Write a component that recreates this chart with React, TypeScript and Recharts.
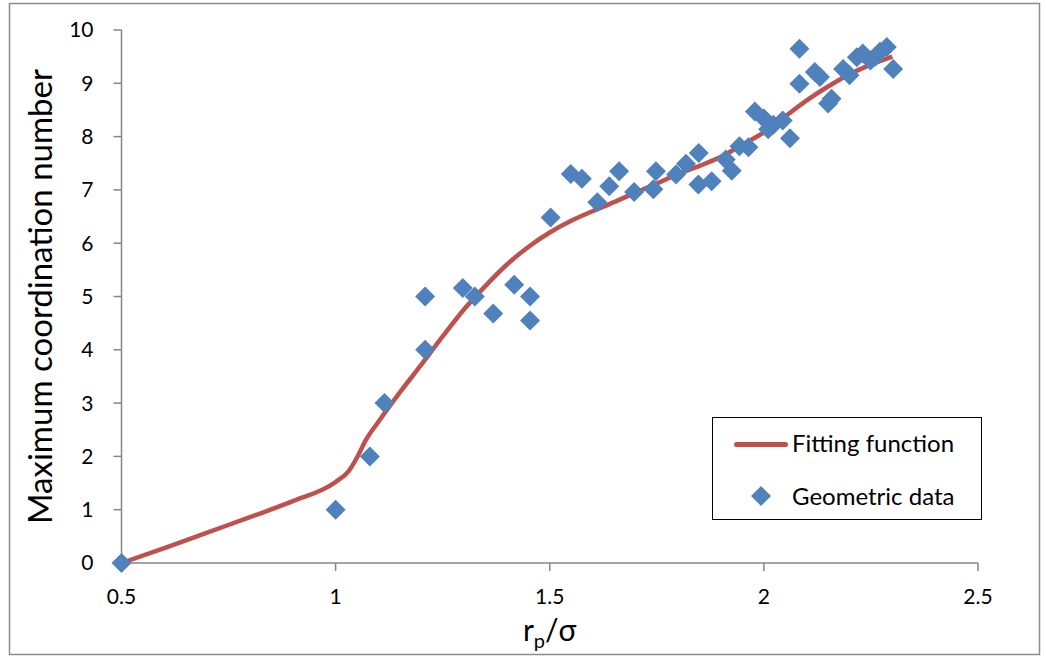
import React from 'react';
import { ComposedChart, Line, Scatter, XAxis, YAxis, Legend } from 'recharts';

// geometric data
const geoX = [
  0.5, 1.0, 1.08, 1.114, 1.209, 1.209, 1.297, 1.325, 1.368, 1.417, 1.454, 1.454,
  1.502, 1.549, 1.575, 1.611, 1.639, 1.662, 1.697, 1.742, 1.748, 1.795, 1.818,
  1.848, 1.847, 1.878, 1.911, 1.925, 1.943, 1.964, 1.979, 2.0, 2.01, 2.022, 2.044,
  2.061, 2.083, 2.083, 2.119, 2.131, 2.15, 2.158, 2.185, 2.2, 2.217, 2.231, 2.249,
  2.26, 2.271, 2.287, 2.302,
];
const geoY = [
  0, 1, 2, 3, 4, 5, 5.16, 5.0, 4.68, 5.22, 5.0, 4.55,
  6.48, 7.3, 7.21, 6.77, 7.07, 7.35, 6.96, 7.01, 7.35, 7.29, 7.49,
  7.69, 7.1, 7.16, 7.57, 7.36, 7.82, 7.8, 8.47, 8.34, 8.14, 8.22, 8.3,
  7.97, 9.65, 8.99, 9.21, 9.12, 8.62, 8.71, 9.27, 9.15, 9.49, 9.56, 9.43,
  9.5, 9.59, 9.68, 9.27,
];

// fitting function samples
const fitX = [
  0.5, 0.6, 0.7, 0.8, 0.9, 1.0, 1.03, 1.05, 1.07, 1.1, 1.15, 1.2, 1.25, 1.3, 1.35,
  1.4, 1.45, 1.5, 1.55, 1.6, 1.65, 1.7, 1.75, 1.8, 1.85, 1.9, 1.95, 2.0, 2.05,
  2.1, 2.15, 2.2, 2.25, 2.3,
];
const fitY = [
  0, 0.28, 0.57, 0.86, 1.16, 1.52, 1.72, 1.98, 2.3, 2.65, 3.2, 3.72, 4.25, 4.76, 5.2,
  5.6, 5.93, 6.2, 6.42, 6.6, 6.77, 6.95, 7.12, 7.3, 7.45, 7.62, 7.85, 8.08, 8.38,
  8.68, 8.94, 9.17, 9.35, 9.5,
];

const xTicks = [0.5, 1, 1.5, 2, 2.5];
const yTicks = [0, 1, 2, 3, 4, 5, 6, 7, 8, 9, 10];

const geoData = geoX.map((x, i) => ({ x, y: geoY[i] }));
const fitData = fitX.map((x, i) => ({ x, fit: fitY[i] }));

const FONT = 'Lato, "Open Sans", sans-serif';
const BLUE = '#4F81BD';
const RED = '#C0504D';
const AXIS = '#868686';

const Diamond = (props: any) => {
  const { cx, cy } = props;
  const r = 10;
  return (
    <polygon
      points={`${cx},${cy - r} ${cx + r},${cy} ${cx},${cy + r} ${cx - r},${cy}`}
      fill={BLUE}
    />
  );
};

const LegendBox = () => (
  <div
    style={{
      width: 270,
      height: 103,
      border: '1.5px solid #000',
      background: '#fff',
      fontFamily: FONT,
      fontSize: 24,
      color: '#000',
      position: 'relative',
      boxSizing: 'border-box',
      textAlign: 'left',
    }}
  >
    <div style={{ position: 'absolute', left: 21, top: 24, width: 54, height: 5, borderRadius: 3, background: RED }} />
    <div style={{ position: 'absolute', left: 79, top: 10, lineHeight: '30px', whiteSpace: 'nowrap' }}>Fitting function</div>
    <svg style={{ position: 'absolute', left: 38, top: 68 }} width={20} height={20}>
      <polygon points="10,0 20,10 10,20 0,10" fill={BLUE} />
    </svg>
    <div style={{ position: 'absolute', left: 79, top: 63, lineHeight: '30px', whiteSpace: 'nowrap' }}>Geometric data</div>
  </div>
);

const XLabel = (props: any) => {
  const { viewBox } = props;
  const cx = viewBox.x + viewBox.width / 2;
  return (
    <text x={cx} y={641} textAnchor="middle" fontFamily={FONT} fontSize={30} fill="#000">
      r
      <tspan fontSize={20} dy={7}>p</tspan>
      <tspan fontSize={30} dy={-7}>/σ</tspan>
    </text>
  );
};

const YLabel = (props: any) => {
  const { viewBox } = props;
  const cy = viewBox.y + viewBox.height / 2;
  return (
    <text
      x={52}
      y={cy}
      transform={`rotate(-90, 52, ${cy})`}
      textAnchor="middle"
      fontFamily={FONT}
      fontSize={33}
      fill="#000"
    >
      Maximum coordination number
    </text>
  );
};

export default function App() {
  return (
    <div style={{ position: 'fixed', left: 0, top: 0, width: 1046, height: 658, background: '#fff' }}>
      <ComposedChart width={1046} height={658} margin={{ top: 30, right: 68, bottom: 35, left: 51.5 }}>
        <XAxis
          type="number"
          dataKey="x"
          domain={[0.5, 2.5]}
          ticks={xTicks}
          stroke={AXIS}
          strokeWidth={1.5}
          tickSize={8}
          tickMargin={18}
          height={60}
          tick={{ fill: '#000', fontSize: 21, fontFamily: FONT }}
          label={<XLabel />}
        />
        <YAxis
          type="number"
          domain={[0, 10]}
          ticks={yTicks}
          stroke={AXIS}
          strokeWidth={1.5}
          tickSize={8}
          tickMargin={20}
          width={70}
          tick={{ fill: '#000', fontSize: 21, fontFamily: FONT }}
          label={<YLabel />}
        />
        <Line
          data={fitData}
          dataKey="fit"
          type="monotone"
          stroke={RED}
          strokeWidth={4.5}
          dot={false}
          activeDot={false}
          isAnimationActive={false}
          name="Fitting function"
        />
        <Scatter
          data={geoData}
          dataKey="y"
          shape={<Diamond />}
          isAnimationActive={false}
          name="Geometric data"
        />
        <Legend
          content={<LegendBox />}
          layout="vertical"
          align="center"
          verticalAlign="middle"
          wrapperStyle={{ left: 712, top: 417, width: 270 }}
        />
      </ComposedChart>
      <svg
        width={1046}
        height={658}
        style={{ position: 'absolute', left: 0, top: 0, pointerEvents: 'none' }}
      >
        <rect x={9.5} y={3.5} width={1030} height={651} fill="none" stroke="#8c8c8c" strokeWidth={1.5} />
      </svg>
    </div>
  );
}
